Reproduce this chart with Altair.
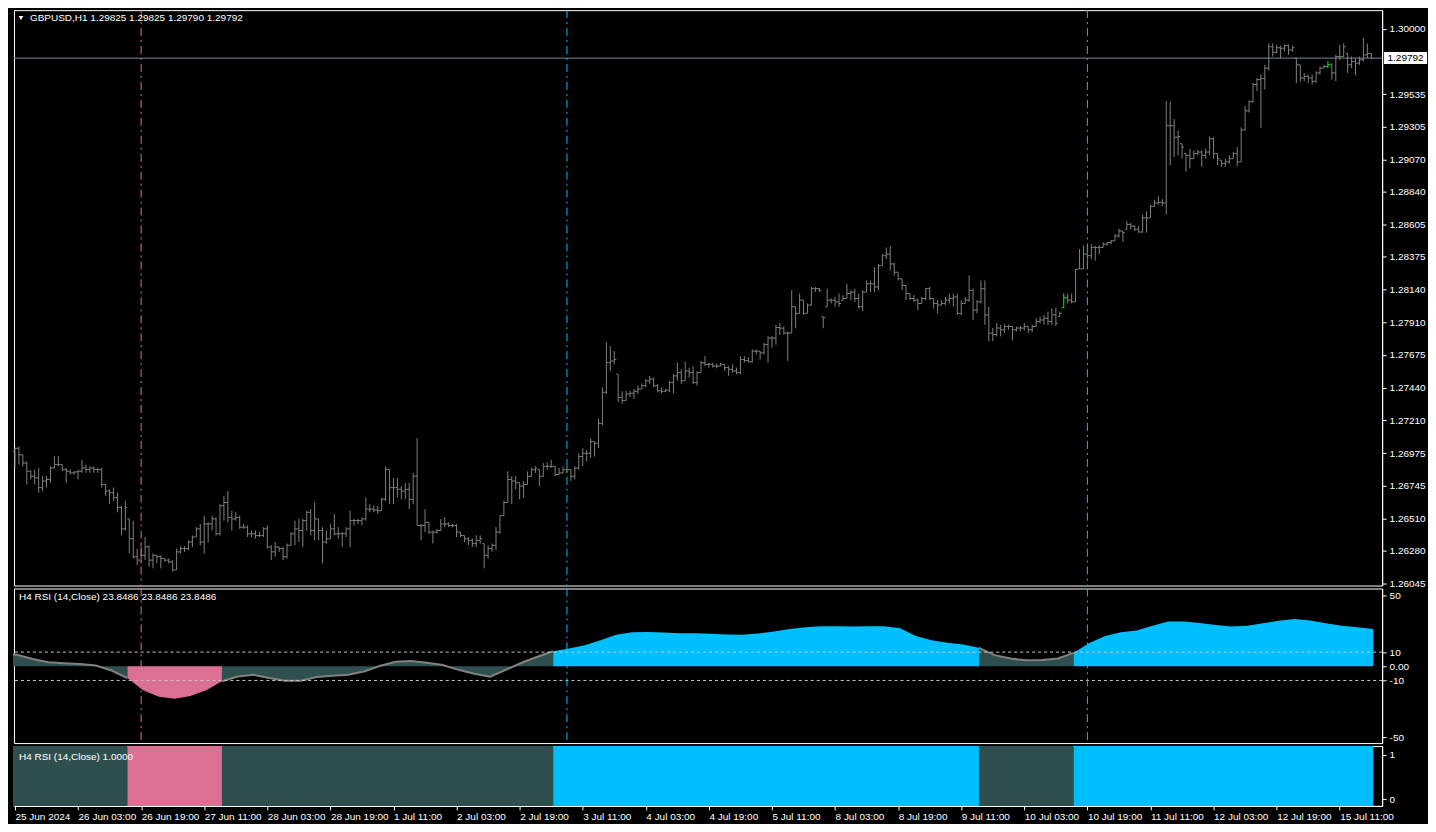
import altair as alt
import pandas as pd

# ---------------- data ----------------
highs = [
    1.27015, 1.27022, 1.26963, 1.26916, 1.26851, 1.26858, 1.26869, 1.26811, 1.26811, 1.26881,
    1.26952, 1.26956, 1.26893, 1.26869, 1.26858, 1.26846, 1.26858, 1.26928, 1.26893, 1.26881,
    1.26881, 1.26869, 1.26869, 1.26752, 1.26717, 1.26729, 1.26693, 1.26600, 1.26635, 1.26506,
    1.26494, 1.26294, 1.26330, 1.26377, 1.26318, 1.26259, 1.26247, 1.26247, 1.26224, 1.26224,
    1.26212, 1.26294, 1.26311, 1.26311, 1.26353, 1.26388, 1.26447, 1.26470, 1.26529, 1.26482,
    1.26529, 1.26517, 1.26611, 1.26670, 1.26705, 1.26564, 1.26553, 1.26529, 1.26470, 1.26459,
    1.26423, 1.26423, 1.26412, 1.26447, 1.26459, 1.26318, 1.26341, 1.26306, 1.26306, 1.26330,
    1.26412, 1.26494, 1.26506, 1.26506, 1.26564, 1.26576, 1.26623, 1.26506, 1.26447, 1.26423,
    1.26470, 1.26541, 1.26447, 1.26412, 1.26447, 1.26564, 1.26506, 1.26506, 1.26517, 1.26658,
    1.26611, 1.26600, 1.26600, 1.26658, 1.26881, 1.26858, 1.26799, 1.26799, 1.26740, 1.26764,
    1.26764, 1.26834, 1.27081, 1.26470, 1.26576, 1.26482, 1.26423, 1.26435, 1.26506, 1.26517,
    1.26482, 1.26470, 1.26470, 1.26412, 1.26388, 1.26377, 1.26365, 1.26388, 1.26388, 1.26330,
    1.26318, 1.26330, 1.26447, 1.26529, 1.26635, 1.26846, 1.26811, 1.26811, 1.26764, 1.26776,
    1.26845, 1.26869, 1.26881, 1.26857, 1.26904, 1.26909, 1.26928, 1.26881, 1.26869, 1.26881,
    1.26881, 1.26857, 1.26881, 1.26974, 1.27010, 1.26998, 1.27080, 1.27057, 1.27221, 1.27444,
    1.27768, 1.27737, 1.27702, 1.27538, 1.27416, 1.27420, 1.27420, 1.27432, 1.27456, 1.27472,
    1.27503, 1.27526, 1.27514, 1.27467, 1.27444, 1.27432, 1.27491, 1.27538, 1.27620, 1.27573,
    1.27627, 1.27585, 1.27596, 1.27561, 1.27632, 1.27667, 1.27620, 1.27620, 1.27613, 1.27620,
    1.27608, 1.27596, 1.27608, 1.27585, 1.27667, 1.27667, 1.27660, 1.27714, 1.27714, 1.27702,
    1.27761, 1.27808, 1.27808, 1.27890, 1.27902, 1.27878, 1.27843, 1.28136, 1.28019, 1.28113,
    1.28066, 1.28042, 1.28160, 1.28160, 1.28153, 1.27948, 1.28148, 1.28078, 1.28089, 1.28113,
    1.28101, 1.28183, 1.28136, 1.28148, 1.28113, 1.28136, 1.28207, 1.28207, 1.28300, 1.28324,
    1.28394, 1.28441, 1.28453, 1.28331, 1.28265, 1.28218, 1.28171, 1.28113, 1.28101, 1.28078,
    1.28089, 1.28153, 1.28160, 1.28078, 1.28066, 1.28066, 1.28089, 1.28113, 1.28113, 1.28113,
    1.28066, 1.28089, 1.28242, 1.28148, 1.28066, 1.28207, 1.28207, 1.28019, 1.27867, 1.27902,
    1.27890, 1.27895, 1.27890, 1.27878, 1.27878, 1.27883, 1.27902, 1.27878, 1.27890, 1.27937,
    1.27949, 1.27961, 1.27984, 1.28008, 1.28012, 1.27984, 1.28113, 1.28113, 1.28113, 1.28289,
    1.28430, 1.28458, 1.28458, 1.28465, 1.28454, 1.28458, 1.28477, 1.28481, 1.28496, 1.28536,
    1.28576, 1.28559, 1.28630, 1.28618, 1.28599, 1.28594, 1.28676, 1.28700, 1.28747, 1.28782,
    1.28806, 1.28787, 1.29486, 1.29481, 1.29357, 1.29275, 1.29181, 1.29111, 1.29146, 1.29134,
    1.29139, 1.29134, 1.29146, 1.29233, 1.29228, 1.29111, 1.29064, 1.29075, 1.29099, 1.29122,
    1.29158, 1.29298, 1.29451, 1.29491, 1.29615, 1.29650, 1.29674, 1.29744, 1.29897, 1.29897,
    1.29885, 1.29880, 1.29890, 1.29890, 1.29880, 1.29791, 1.29744, 1.29686, 1.29674, 1.29674,
    1.29697, 1.29733, 1.29744, 1.29772, 1.29756, 1.29815, 1.29885, 1.29897, 1.29826, 1.29803,
    1.29791, 1.29803, 1.29937, 1.29897, 1.29825,
]
lows = [
    1.26869, 1.26893, 1.26881, 1.26752, 1.26787, 1.26752, 1.26693, 1.26705, 1.26729, 1.26764,
    1.26869, 1.26881, 1.26846, 1.26764, 1.26823, 1.26823, 1.26787, 1.26834, 1.26834, 1.26834,
    1.26834, 1.26834, 1.26729, 1.26670, 1.26611, 1.26635, 1.26553, 1.26388, 1.26423, 1.26259,
    1.26224, 1.26177, 1.26189, 1.26212, 1.26165, 1.26154, 1.26189, 1.26154, 1.26200, 1.26189,
    1.26130, 1.26142, 1.26259, 1.26271, 1.26283, 1.26306, 1.26377, 1.26318, 1.26259, 1.26341,
    1.26423, 1.26388, 1.26388, 1.26494, 1.26482, 1.26423, 1.26494, 1.26435, 1.26435, 1.26377,
    1.26377, 1.26365, 1.26377, 1.26377, 1.26294, 1.26212, 1.26236, 1.26271, 1.26212, 1.26224,
    1.26318, 1.26318, 1.26341, 1.26306, 1.26423, 1.26388, 1.26353, 1.26353, 1.26189, 1.26330,
    1.26365, 1.26388, 1.26365, 1.26306, 1.26377, 1.26306, 1.26459, 1.26470, 1.26459, 1.26494,
    1.26553, 1.26553, 1.26541, 1.26564, 1.26635, 1.26611, 1.26611, 1.26658, 1.26646, 1.26646,
    1.26576, 1.26611, 1.26459, 1.26353, 1.26412, 1.26400, 1.26330, 1.26400, 1.26423, 1.26447,
    1.26447, 1.26447, 1.26377, 1.26377, 1.26341, 1.26318, 1.26306, 1.26306, 1.26330, 1.26154,
    1.26224, 1.26271, 1.26283, 1.26400, 1.26529, 1.26623, 1.26611, 1.26717, 1.26646, 1.26658,
    1.26751, 1.26810, 1.26834, 1.26740, 1.26810, 1.26857, 1.26869, 1.26810, 1.26822, 1.26834,
    1.26834, 1.26775, 1.26787, 1.26857, 1.26881, 1.26916, 1.26939, 1.26951, 1.27010, 1.27174,
    1.27397, 1.27561, 1.27608, 1.27338, 1.27327, 1.27350, 1.27373, 1.27362, 1.27397, 1.27432,
    1.27444, 1.27467, 1.27444, 1.27409, 1.27402, 1.27409, 1.27409, 1.27402, 1.27491, 1.27467,
    1.27491, 1.27514, 1.27467, 1.27456, 1.27549, 1.27596, 1.27585, 1.27585, 1.27580, 1.27596,
    1.27561, 1.27526, 1.27549, 1.27538, 1.27538, 1.27620, 1.27620, 1.27620, 1.27679, 1.27643,
    1.27679, 1.27620, 1.27726, 1.27749, 1.27819, 1.27819, 1.27632, 1.27831, 1.27866, 1.27972,
    1.27960, 1.27972, 1.28031, 1.28124, 1.28124, 1.27866, 1.28019, 1.28042, 1.28019, 1.28019,
    1.28066, 1.28078, 1.28066, 1.28054, 1.28007, 1.27988, 1.28124, 1.28124, 1.28124, 1.28136,
    1.28312, 1.28359, 1.28277, 1.28242, 1.28207, 1.28136, 1.28066, 1.28066, 1.28054, 1.27995,
    1.28042, 1.28066, 1.28066, 1.28007, 1.27972, 1.28031, 1.28031, 1.28042, 1.28019, 1.27960,
    1.27960, 1.28042, 1.28054, 1.27925, 1.27972, 1.28042, 1.27890, 1.27772, 1.27773, 1.27808,
    1.27808, 1.27832, 1.27855, 1.27778, 1.27843, 1.27843, 1.27848, 1.27832, 1.27839, 1.27878,
    1.27902, 1.27890, 1.27890, 1.27890, 1.27883, 1.27949, 1.28012, 1.28043, 1.28043, 1.28054,
    1.28289, 1.28289, 1.28336, 1.28360, 1.28348, 1.28395, 1.28442, 1.28454, 1.28465, 1.28489,
    1.28512, 1.28481, 1.28571, 1.28571, 1.28559, 1.28547, 1.28547, 1.28547, 1.28653, 1.28735,
    1.28747, 1.28735, 1.28676, 1.29028, 1.29087, 1.29099, 1.29075, 1.28982, 1.29005, 1.29075,
    1.29099, 1.29017, 1.29075, 1.29099, 1.29075, 1.29028, 1.29017, 1.29017, 1.29040, 1.29075,
    1.29021, 1.29052, 1.29275, 1.29404, 1.29474, 1.29557, 1.29294, 1.29568, 1.29702, 1.29803,
    1.29826, 1.29791, 1.29838, 1.29815, 1.29838, 1.29615, 1.29627, 1.29627, 1.29615, 1.29603,
    1.29615, 1.29674, 1.29721, 1.29721, 1.29639, 1.29627, 1.29780, 1.29803, 1.29686, 1.29721,
    1.29669, 1.29744, 1.29768, 1.29791, 1.29790,
]
closes = [
    1.27010, 1.26963, 1.26905, 1.26846, 1.26811, 1.26799, 1.26729, 1.26776, 1.26787, 1.26869,
    1.26893, 1.26893, 1.26858, 1.26846, 1.26834, 1.26841, 1.26846, 1.26869, 1.26858, 1.26869,
    1.26858, 1.26858, 1.26752, 1.26705, 1.26693, 1.26658, 1.26588, 1.26435, 1.26588, 1.26365,
    1.26236, 1.26212, 1.26247, 1.26306, 1.26212, 1.26247, 1.26236, 1.26224, 1.26212, 1.26200,
    1.26142, 1.26271, 1.26294, 1.26294, 1.26341, 1.26377, 1.26435, 1.26341, 1.26470, 1.26470,
    1.26506, 1.26400, 1.26600, 1.26623, 1.26517, 1.26506, 1.26517, 1.26447, 1.26447, 1.26400,
    1.26400, 1.26388, 1.26388, 1.26435, 1.26306, 1.26271, 1.26306, 1.26294, 1.26236, 1.26318,
    1.26400, 1.26435, 1.26423, 1.26494, 1.26553, 1.26423, 1.26506, 1.26423, 1.26341, 1.26365,
    1.26435, 1.26400, 1.26400, 1.26400, 1.26435, 1.26494, 1.26494, 1.26494, 1.26506, 1.26576,
    1.26576, 1.26569, 1.26564, 1.26646, 1.26858, 1.26729, 1.26729, 1.26717, 1.26705, 1.26717,
    1.26646, 1.26811, 1.26459, 1.26459, 1.26482, 1.26412, 1.26412, 1.26423, 1.26470, 1.26470,
    1.26459, 1.26459, 1.26412, 1.26388, 1.26365, 1.26353, 1.26330, 1.26353, 1.26365, 1.26247,
    1.26294, 1.26318, 1.26412, 1.26529, 1.26623, 1.26787, 1.26776, 1.26764, 1.26740, 1.26752,
    1.26810, 1.26857, 1.26869, 1.26810, 1.26881, 1.26881, 1.26881, 1.26822, 1.26834, 1.26857,
    1.26857, 1.26810, 1.26869, 1.26951, 1.26974, 1.26974, 1.27057, 1.27045, 1.27186, 1.27409,
    1.27620, 1.27632, 1.27643, 1.27373, 1.27350, 1.27397, 1.27402, 1.27416, 1.27432, 1.27456,
    1.27491, 1.27503, 1.27456, 1.27420, 1.27416, 1.27425, 1.27479, 1.27526, 1.27549, 1.27491,
    1.27561, 1.27549, 1.27479, 1.27549, 1.27620, 1.27608, 1.27608, 1.27596, 1.27596, 1.27608,
    1.27585, 1.27573, 1.27561, 1.27549, 1.27643, 1.27636, 1.27627, 1.27702, 1.27702, 1.27690,
    1.27749, 1.27796, 1.27796, 1.27871, 1.27866, 1.27831, 1.27831, 1.28019, 1.27972, 1.28066,
    1.27972, 1.28031, 1.28148, 1.28148, 1.28136, 1.27941, 1.28066, 1.28066, 1.28054, 1.28042,
    1.28078, 1.28113, 1.28124, 1.28078, 1.28019, 1.28124, 1.28183, 1.28183, 1.28160, 1.28312,
    1.28383, 1.28394, 1.28324, 1.28265, 1.28218, 1.28171, 1.28113, 1.28078, 1.28066, 1.28042,
    1.28078, 1.28148, 1.28078, 1.28042, 1.28031, 1.28042, 1.28066, 1.28078, 1.28089, 1.27972,
    1.28042, 1.28066, 1.28136, 1.27995, 1.28054, 1.28148, 1.27960, 1.27831, 1.27820, 1.27867,
    1.27855, 1.27878, 1.27878, 1.27855, 1.27867, 1.27867, 1.27878, 1.27855, 1.27878, 1.27914,
    1.27925, 1.27937, 1.27914, 1.27961, 1.27902, 1.27972, 1.28083, 1.28066, 1.28054, 1.28284,
    1.28289, 1.28395, 1.28383, 1.28442, 1.28442, 1.28442, 1.28465, 1.28477, 1.28489, 1.28524,
    1.28559, 1.28547, 1.28606, 1.28594, 1.28571, 1.28552, 1.28653, 1.28653, 1.28735, 1.28759,
    1.28763, 1.28759, 1.29310, 1.29310, 1.29228, 1.29233, 1.29158, 1.29099, 1.29075, 1.29111,
    1.29122, 1.29099, 1.29122, 1.29216, 1.29111, 1.29075, 1.29040, 1.29052, 1.29075, 1.29111,
    1.29052, 1.29280, 1.29416, 1.29481, 1.29603, 1.29639, 1.29646, 1.29721, 1.29873, 1.29833,
    1.29866, 1.29862, 1.29880, 1.29850, 1.29866, 1.29744, 1.29650, 1.29662, 1.29650, 1.29627,
    1.29686, 1.29721, 1.29733, 1.29744, 1.29686, 1.29803, 1.29803, 1.29873, 1.29744, 1.29768,
    1.29756, 1.29780, 1.29815, 1.29825, 1.29792,
]
first_open = 1.26990
highlight_bars = [266, 333]

# H4 RSI (centred on 50), sampled at the start of each H4 period
rsi_val = [
    8.3, 8.2, 5.1, 2.8, 2.1, 1.6, 0.5, -3.0, -8.3, -16.9, -21.5,
    -22.9, -21.0, -16.9, -10.6, -7.2, -6.0, -8.3, -10.2, -10.2, -7.6,
    -6.7, -6.0, -3.7, 0.2, 3.2, 3.7, 2.5, 0.9, -2.5, -5.3,
    -7.4, -2.5, 2.5, 6.7, 10.6, 12.5, 14.8, 18.3, 22.2, 24.0,
    24.2, 23.8, 23.4, 23.4, 22.9, 22.5, 22.2, 23.1, 24.5, 26.4,
    27.5, 28.2, 28.2, 28.0, 28.2, 28.2, 26.8, 21.3, 18.3, 16.6,
    15.3, 13.0, 7.9, 5.5, 4.2, 4.4, 5.5, 9.5, 16.4, 21.3,
    24.0, 25.2, 28.7, 31.7, 31.7, 30.6, 29.2, 28.0, 28.7, 30.3,
    32.2, 33.3, 32.4, 30.3, 28.7, 27.5, 26.4,
]
rsi_baseline = 0.0
seg_start = [0, 29, 53, 137, 245, 269]
seg_end = [29, 53, 137, 245, 269, 345]
seg_state = ["neutral", "down", "neutral", "up", "neutral", "up"]

vline_bars = [32, 140, 272]
vline_colors = ["#DB7093", "#00BFFF", "#00BFFF"]

price_ticks = [1.30000, 1.29535, 1.29305, 1.29070, 1.28840, 1.28605, 1.28375, 1.28140,
               1.27910, 1.27675, 1.27440, 1.27210, 1.26975, 1.26745, 1.26510, 1.26280, 1.26045]
rsi_ticks = [50, 10, 0, -10, -50]
rsi_levels = [10, -10]
state_ticks = [0, 1]
x_labels = ["25 Jun 2024", "26 Jun 03:00", "26 Jun 19:00", "27 Jun 11:00", "28 Jun 03:00",
            "28 Jun 19:00", "1 Jul 11:00", "2 Jul 03:00", "2 Jul 19:00", "3 Jul 11:00",
            "4 Jul 03:00", "4 Jul 19:00", "5 Jul 11:00", "8 Jul 03:00", "8 Jul 19:00",
            "9 Jul 11:00", "10 Jul 03:00", "10 Jul 19:00", "11 Jul 11:00", "12 Jul 03:00",
            "12 Jul 19:00", "15 Jul 11:00"]
last_price = 1.29792
header_main = "GBPUSD,H1  1.29825 1.29825 1.29790 1.29792"
header_rsi = "H4 RSI (14,Close) 23.8486 23.8486 23.8486"
header_state = "H4 RSI (14,Close) 1.0000"

# ---------------- styling ----------------
FONT = "Liberation Sans"
W, H1, H2, H3 = 1372, 577, 155, 60
BAR_GRAY = "#7f7f7f"
BAR_HL = "#00FF00"
STATE_COLORS = {"neutral": "#2F4F4F", "down": "#DB7093", "up": "#00BFFF"}

xs = alt.Scale(domain=[-0.25, 346.75], nice=False, zero=False)
ys_main = alt.Scale(domain=[1.26031, 1.30134], nice=False, zero=False)
ys_rsi = alt.Scale(domain=[-54.2, 54.9], nice=False, zero=False)
ys_state = alt.Scale(domain=[-0.152, 1.196], nice=False, zero=False)

AX_MAIN = alt.Axis(orient="right", values=price_ticks, format=".5f", title=None)
AX_RSI = alt.Axis(orient="right", values=rsi_ticks, title=None,
                  labelExpr="datum.value == 0 ? '0.00' : '' + datum.value")
AX_STATE = alt.Axis(orient="right", values=state_ticks, title=None, format="d")
RAW = alt.Color("col:N", scale=None, legend=None)

# ---------------- tables ----------------
n = min(len(highs), len(lows), len(closes))
opens, prev = [], first_open
for i in range(n):
    opens.append(min(max(prev, lows[i]), highs[i]))
    prev = closes[i]
ohlc = pd.DataFrame({
    "bar": list(range(n)), "open": opens, "high": highs[:n], "low": lows[:n], "close": closes[:n],
    "col": [BAR_HL if i in highlight_bars else BAR_GRAY for i in range(n)],
})

rsi_bar = [0] + [1 + 4 * k for k in range(len(rsi_val) - 2)] + [n]
rows = []
for j, (s, e, st) in enumerate(zip(seg_start, seg_end, seg_state)):
    for b, v in zip(rsi_bar, rsi_val):
        if s <= b <= e:
            rows.append({"xe": b - 0.5, "rsi": v, "base": rsi_baseline, "seg": j,
                         "state": st, "col": STATE_COLORS[st]})
rsi_df = pd.DataFrame(rows)
seg_df = pd.DataFrame({"x0": [s - 0.5 for s in seg_start], "x1": [e - 0.5 for e in seg_end],
                       "col": [STATE_COLORS[s] for s in seg_state]})
vl_df = pd.DataFrame({"bar": vline_bars, "col": vline_colors})
price_df = pd.DataFrame({"p": [last_price], "lbl": [f"{last_price:.5f}"]})

# ---------------- main price panel ----------------
XN = alt.X("bar:Q", scale=xs, axis=None)
base = alt.Chart(ohlc)
hl_rule = base.mark_rule(strokeWidth=1).encode(
    x=XN, y=alt.Y("low:Q", scale=ys_main, axis=AX_MAIN), y2="high:Q", color=RAW)
open_tick = base.mark_tick(orient="horizontal", size=2, thickness=1, xOffset=-1, opacity=1).encode(
    x=XN, y=alt.Y("open:Q", scale=ys_main, axis=AX_MAIN), color=RAW)
close_tick = base.mark_tick(orient="horizontal", size=2, thickness=1, xOffset=1, opacity=1).encode(
    x=XN, y=alt.Y("close:Q", scale=ys_main, axis=AX_MAIN), color=RAW)
price_line = alt.Chart(price_df).mark_rule(color="#778899", strokeWidth=1).encode(
    y=alt.Y("p:Q", scale=ys_main, axis=AX_MAIN))


def vlines():
    return alt.Chart(vl_df).mark_rule(strokeDash=[8, 4, 2, 4], strokeWidth=1).encode(x=XN, color=RAW)


price_box = alt.Chart(price_df).mark_point(
    shape="M-3.6,-1H3.6V1H-3.6Z", filled=True, fill="#ffffff", size=144, opacity=1, strokeWidth=0
).encode(x=alt.value(W + 23.5), y=alt.Y("p:Q", scale=ys_main, axis=AX_MAIN))
price_box_text = alt.Chart(price_df).mark_text(
    align="center", baseline="middle", color="#000000", font=FONT, fontSize=10
).encode(x=alt.value(W + 23.5), y=alt.Y("p:Q", scale=ys_main, axis=AX_MAIN), text="lbl:N")

head_main = alt.Chart(pd.DataFrame({"t": [header_main]})).mark_text(
    align="left", baseline="middle", color="#ffffff", font=FONT, fontSize=10
).encode(x=alt.value(16), y=alt.value(8), text="t:N")
tri = alt.Chart(pd.DataFrame({"t": ["v"]})).mark_point(
    shape="triangle-down", filled=True, fill="#ffffff", size=22, opacity=1, strokeWidth=0
).encode(x=alt.value(7), y=alt.value(8))

main = alt.layer(price_line, vlines(), hl_rule, open_tick, close_tick,
                 price_box, price_box_text, head_main, tri).properties(width=W, height=H1)

# ---------------- RSI panel ----------------
XR = alt.X("xe:Q", scale=xs, axis=None)
rsi_area = alt.Chart(rsi_df).mark_area(interpolate="linear", opacity=1, orient="vertical").encode(
    x=XR, y=alt.Y("rsi:Q", scale=ys_rsi, stack=None, axis=AX_RSI),
    y2="base:Q", color=RAW, detail="seg:N",
)
rsi_line = alt.Chart(rsi_df).transform_filter(alt.datum.state == "neutral").mark_line(
    color="#808080", strokeWidth=2, interpolate="linear"
).encode(x=XR, y=alt.Y("rsi:Q", scale=ys_rsi, axis=AX_RSI), detail="seg:N", order="xe:Q")
levels = alt.Chart(pd.DataFrame({"v": rsi_levels})).mark_rule(
    color="#c8c8c8", strokeDash=[3, 3], strokeWidth=1
).encode(y=alt.Y("v:Q", scale=ys_rsi, axis=AX_RSI))
head_rsi = alt.Chart(pd.DataFrame({"t": [header_rsi]})).mark_text(
    align="left", baseline="middle", color="#ffffff", font=FONT, fontSize=10
).encode(x=alt.value(5), y=alt.value(9), text="t:N")

rsi_panel = alt.layer(rsi_area, rsi_line, levels, vlines(), head_rsi).properties(width=W, height=H2)

# ---------------- state panel ----------------
state_rect = alt.Chart(seg_df).mark_rect(opacity=1).encode(
    x=alt.X("x0:Q", scale=xs,
            axis=alt.Axis(values=list(range(0, 16 * len(x_labels), 16)), title=None,
                          labelAlign="left", labelPadding=2,
                          labelExpr="[" + ",".join("'" + s + "'" for s in x_labels) + "][datum.value / 16]")),
    x2="x1:Q",
    y=alt.value(0),
    y2=alt.value(H3),
    color=RAW,
)
state_axis = alt.Chart(pd.DataFrame({"v": state_ticks})).mark_point(opacity=0).encode(
    y=alt.Y("v:Q", scale=ys_state, axis=AX_STATE))
head_state = alt.Chart(pd.DataFrame({"t": [header_state]})).mark_text(
    align="left", baseline="middle", color="#ffffff", font=FONT, fontSize=10
).encode(x=alt.value(5), y=alt.value(11), text="t:N")

state_panel = alt.layer(state_rect, state_axis, head_state).properties(width=W, height=H3)

chart = alt.vconcat(
    main, rsi_panel, state_panel, spacing=3, bounds="flush",
    padding={"left": 0, "top": 0, "right": 0, "bottom": 0},
).resolve_scale(color="independent", y="independent").configure(
    background="#000000"
).configure_view(
    stroke="#ffffff", strokeWidth=1
).configure_axis(
    grid=False, domainColor="#ffffff", tickColor="#ffffff", labelColor="#ffffff",
    labelFont=FONT, labelFontSize=10, tickSize=4, labelPadding=3,
    labelOverlap=False, labelFlush=False, labelBound=False, domainWidth=1, tickWidth=1,
)

chart.save("out.html", embed_options={"renderer": "svg", "actions": False})
